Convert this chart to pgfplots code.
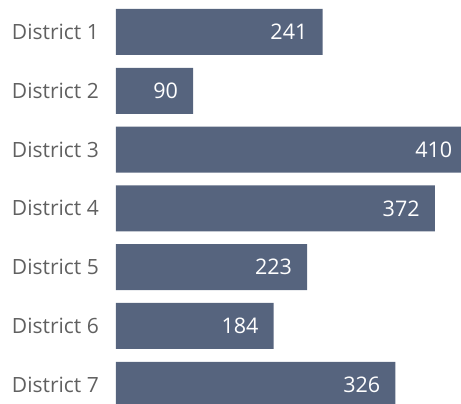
\documentclass[border=0pt]{standalone}
\usepackage{fontspec}
\setmainfont{Open Sans}
\usepackage{pgfplots}
\pgfplotsset{compat=1.18}
\definecolor{barc}{HTML}{56647E}
\definecolor{labc}{HTML}{606060}
\begin{document}
\begin{tikzpicture}
\useasboundingbox (0,0) rectangle (461pt,404pt);
\clip (0,0) rectangle (461pt,404pt);
\begin{axis}[
  at={(116pt,0pt)}, anchor=south west,
  scale only axis,
  width=359.94pt, height=404pt,
  xmin=0, xmax=420,
  ymin=0.456, ymax=7.327,
  y dir=reverse,
  xbar, bar width=46pt,
  ytick={1,...,7},
  yticklabels={District 1,District 2,District 3,District 4,District 5,District 6,District 7},
  hide x axis,
  axis y line*=left,
  y axis line style={draw=none},
  ytick style={draw=none},
  major tick length=0pt,
  yticklabel style={font=\fontsize{21}{24}\selectfont, text=labc, anchor=east, inner sep=0pt, xshift=-17pt},
  nodes near coords,
  nodes near coords style={font=\fontsize{21.5}{24}\selectfont, text=white, anchor=east, inner sep=0pt, xshift=-15pt},
  point meta=explicit symbolic,
  clip=true,
]
\addplot[fill=barc, draw=none] coordinates {
  (241,1) [241]
  (90,2) [90]
  (410,3) [410]
  (372,4) [372]
  (223,5) [223]
  (184,6) [184]
  (326,7) [326]
};
\end{axis}
\end{tikzpicture}
\end{document}
